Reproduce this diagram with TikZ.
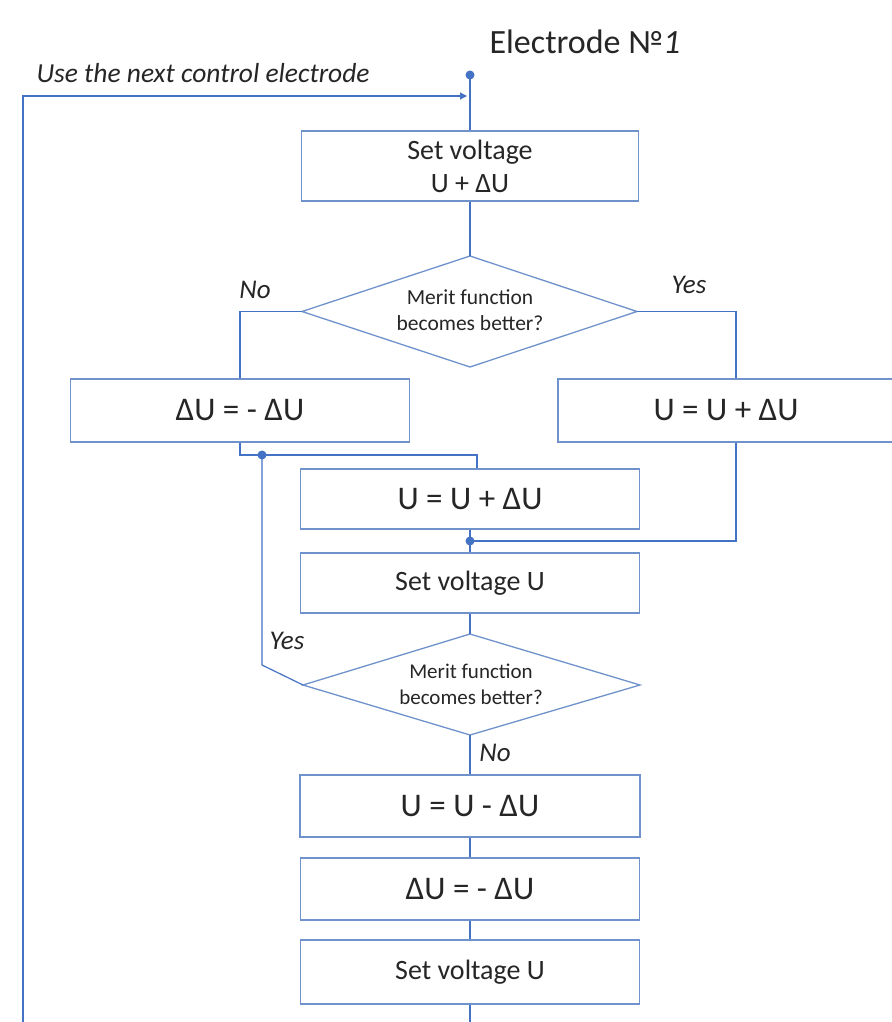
\documentclass[tikz,border=0pt]{standalone}
\usepackage{fontspec}
\setmainfont{Carlito}
\usetikzlibrary{shapes.geometric,arrows.meta}
\definecolor{lineblue}{HTML}{4472C4}
\definecolor{boxblue}{HTML}{7092CC}
\definecolor{txt}{HTML}{262626}
\begin{document}
\begin{tikzpicture}[x=1pt,y=-1pt,
  conn/.style={draw=lineblue,line width=1.2pt},
  box/.style={rectangle,draw=boxblue,line width=1.4pt,text=txt,align=center,inner sep=0pt},
  diaedge/.style={draw=boxblue,line width=1.3pt,line join=miter},
  dtextnode/.style={text=txt,align=center,inner sep=0pt,font=\fontsize{21.5}{26}\selectfont},
  small/.style={font=\fontsize{28}{33}\selectfont},
  big/.style={font=\fontsize{33}{36}\selectfont},
  lab/.style={text=txt,font=\fontsize{27}{30}\selectfont\itshape},
  dot/.style={circle,fill=lineblue,inner sep=0pt,minimum size=9pt}]
\useasboundingbox (0,0) rectangle (891,1022);
\fill[white] (0,0) rectangle (891,1022);

\node[text=txt,font=\fontsize{34}{36}\selectfont] (title) at (585,42) {Electrode №\textit{1}};
\node[text=txt,font=\fontsize{27.5}{30}\selectfont\itshape,anchor=west] (use) at (33,73) {Use the next control electrode};

\node[box,small,minimum width=337pt,minimum height=70pt] (b1) at (470,166) {Set voltage\\U + ΔU};
% diamond 1
\coordinate (d1n) at (470,256);
\coordinate (d1e) at (637,311.5);
\coordinate (d1s) at (470,367);
\coordinate (d1w) at (302,311.5);
\draw[diaedge] (d1n) -- (d1e) -- (d1s) -- (d1w) -- cycle;
\node[dtextnode] (d1) at (470,310) {Merit function\\becomes better?};

\node[box,big,minimum width=339pt,minimum height=63pt] (b2) at (240,410.5) {ΔU = - ΔU};
\node[box,big,minimum width=336pt,minimum height=63pt] (b3) at (726,410.5) {U = U + ΔU};
\node[box,big,minimum width=339pt,minimum height=60pt] (b4) at (470,499) {U = U + ΔU};
\node[box,small,minimum width=339pt,minimum height=60pt] (b5) at (470,583) {Set voltage U};
% diamond 2
\coordinate (d2n) at (470,634);
\coordinate (d2e) at (640,685);
\coordinate (d2s) at (470,735);
\coordinate (d2w) at (303,685);
\draw[diaedge] (d2n) -- (d2e) -- (d2s) -- (d2w) -- cycle;
\node[dtextnode,font=\fontsize{21}{26}\selectfont] (d2) at (471,684) {Merit function\\becomes better?};

\node[box,big,minimum width=340pt,minimum height=62pt] (b6) at (470,806) {U = U - ΔU};
\node[box,big,minimum width=339pt,minimum height=62pt] (b7) at (470,889) {ΔU = - ΔU};
\node[box,small,minimum width=339pt,minimum height=64pt] (b8) at (470,972) {Set voltage U};

\node[lab] (no1) at (255,290) {No};
\node[lab] (yes1) at (689,285) {Yes};
\node[lab] (yes2) at (287,641) {Yes};
\node[lab] (no2) at (495,753) {No};

\coordinate (start) at (470,75);
\coordinate (lc) at (23,1022);
\coordinate (lt) at (23,96);
\coordinate (arr) at (467,96);
\coordinate (j1) at (262,455);
\coordinate (k) at (262,665);
\coordinate (j2) at (470,541);
\coordinate (endb) at (470,1022);

\draw[conn] (start) -- (b1.north);
\draw[conn,-{Triangle[length=7pt,width=7pt]}] (lc) -- (lt) -- (arr);
\draw[conn] (b1.south) -- (d1n);
\draw[conn] (d1w) -| (b2.north);
\draw[conn] (d1e) -| ([xshift=10pt]b3.north);
\draw[conn] (b2.south) |- (j1) -| ([xshift=7pt]b4.north);
\draw[conn] (j1) -- (k) -- (d2w);
\draw[conn] (b4.south) -- (j2) -- (b5.north);
\draw[conn] ([xshift=10pt]b3.south) |- (j2);
\draw[conn] (b5.south) -- (d2n);
\draw[conn] (d2s) -- (b6.north);
\draw[conn] (b6.south) -- (b7.north);
\draw[conn] (b7.south) -- (b8.north);
\draw[conn] (b8.south) -- (endb);

\node[dot] (dstart) at (start) {};
\node[dot] (dj1) at (j1) {};
\node[dot] (dj2) at (j2) {};
\end{tikzpicture}
\end{document}
